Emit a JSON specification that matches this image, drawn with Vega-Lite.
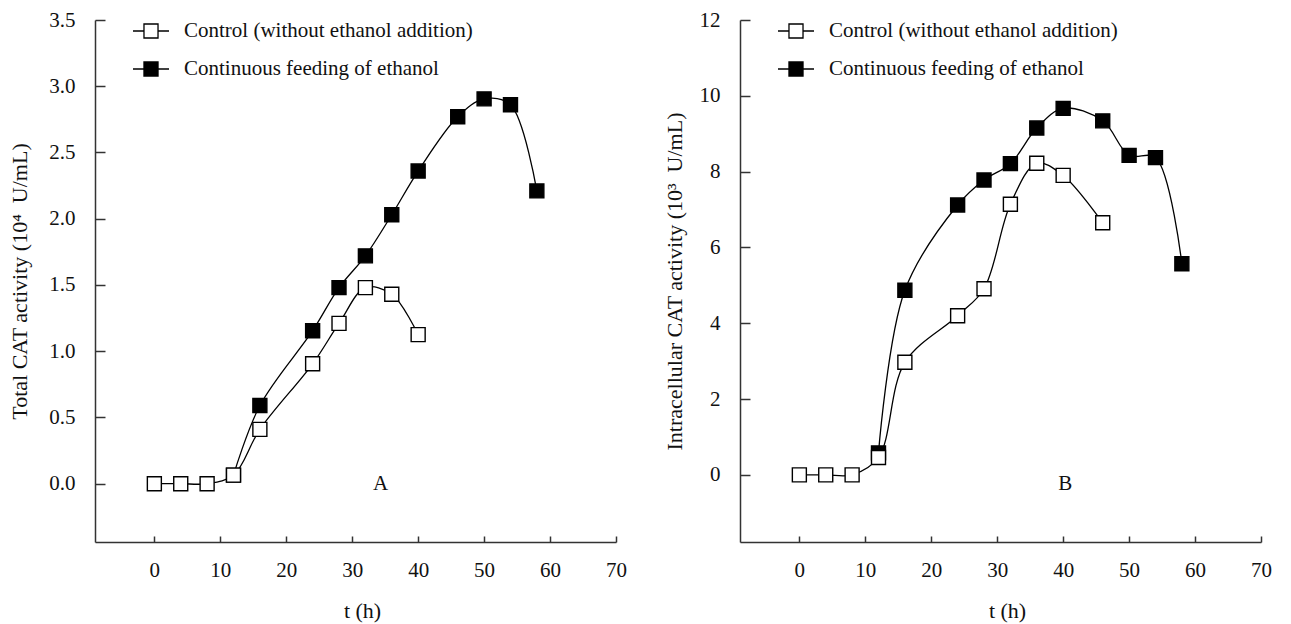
{
  "$schema": "https://vega.github.io/schema/vega-lite/v6.json",
  "background": "white",
  "padding": {"left": 8, "top": 9, "right": 5, "bottom": 5},
  "spacing": 124,
  "bounds": "flush",
  "config": {
    "font": "Liberation Serif",
    "view": {"stroke": null},
    "axis": {
      "grid": false,
      "domainColor": "#333",
      "domainWidth": 1.5,
      "tickColor": "#333",
      "tickWidth": 1.5,
      "labelFont": "Liberation Serif",
      "labelFontSize": 21,
      "labelColor": "#111",
      "titleFont": "Liberation Serif",
      "titleFontSize": 22,
      "titleFontWeight": "normal",
      "titleColor": "#111"
    },
    "axisX": {"tickSize": -6, "labelPadding": 23, "titlePadding": 20, "titleX": 267, "labelFlush": false},
    "axisY": {"tickSize": -10, "labelPadding": 30, "titlePadding": 17},
    "legend": {
      "orient": "none",
      "legendX": 37,
      "legendY": -8,
      "title": null,
      "symbolType": "M-1,0H-0.39M0.39,0H1M-0.39,-0.39H0.39V0.39H-0.39Z",
      "symbolSize": 1296,
      "symbolStrokeColor": "black",
      "symbolStrokeWidth": 1.3,
      "labelFont": "Liberation Serif",
      "labelFontSize": 21,
      "labelColor": "#111",
      "labelOffset": 14,
      "rowPadding": 9,
      "padding": 0,
      "labelLimit": 500
    }
  },
  "datasets": {
    "a": [
      {"s": "Continuous feeding of ethanol", "t": 12, "v": 0.065},
      {"s": "Continuous feeding of ethanol", "t": 16, "v": 0.59},
      {"s": "Continuous feeding of ethanol", "t": 24, "v": 1.155},
      {"s": "Continuous feeding of ethanol", "t": 28, "v": 1.48},
      {"s": "Continuous feeding of ethanol", "t": 32, "v": 1.72},
      {"s": "Continuous feeding of ethanol", "t": 36, "v": 2.03},
      {"s": "Continuous feeding of ethanol", "t": 40, "v": 2.36},
      {"s": "Continuous feeding of ethanol", "t": 46, "v": 2.77},
      {"s": "Continuous feeding of ethanol", "t": 50, "v": 2.905},
      {"s": "Continuous feeding of ethanol", "t": 54, "v": 2.86},
      {"s": "Continuous feeding of ethanol", "t": 58, "v": 2.21},
      {"s": "Control (without ethanol addition)", "t": 0, "v": 0},
      {"s": "Control (without ethanol addition)", "t": 4, "v": 0},
      {"s": "Control (without ethanol addition)", "t": 8, "v": 0},
      {"s": "Control (without ethanol addition)", "t": 12, "v": 0.065},
      {"s": "Control (without ethanol addition)", "t": 16, "v": 0.41},
      {"s": "Control (without ethanol addition)", "t": 24, "v": 0.905},
      {"s": "Control (without ethanol addition)", "t": 28, "v": 1.21},
      {"s": "Control (without ethanol addition)", "t": 32, "v": 1.48},
      {"s": "Control (without ethanol addition)", "t": 36, "v": 1.43},
      {"s": "Control (without ethanol addition)", "t": 40, "v": 1.125}
    ],
    "b": [
      {"s": "Continuous feeding of ethanol", "t": 12, "v": 0.58},
      {"s": "Continuous feeding of ethanol", "t": 16, "v": 4.87},
      {"s": "Continuous feeding of ethanol", "t": 24, "v": 7.12},
      {"s": "Continuous feeding of ethanol", "t": 28, "v": 7.78},
      {"s": "Continuous feeding of ethanol", "t": 32, "v": 8.21},
      {"s": "Continuous feeding of ethanol", "t": 36, "v": 9.15},
      {"s": "Continuous feeding of ethanol", "t": 40, "v": 9.67},
      {"s": "Continuous feeding of ethanol", "t": 46, "v": 9.34},
      {"s": "Continuous feeding of ethanol", "t": 50, "v": 8.43},
      {"s": "Continuous feeding of ethanol", "t": 54, "v": 8.37},
      {"s": "Continuous feeding of ethanol", "t": 58, "v": 5.57},
      {"s": "Control (without ethanol addition)", "t": 0, "v": 0},
      {"s": "Control (without ethanol addition)", "t": 4, "v": 0},
      {"s": "Control (without ethanol addition)", "t": 8, "v": 0},
      {"s": "Control (without ethanol addition)", "t": 12, "v": 0.46},
      {"s": "Control (without ethanol addition)", "t": 16, "v": 2.97},
      {"s": "Control (without ethanol addition)", "t": 24, "v": 4.2},
      {"s": "Control (without ethanol addition)", "t": 28, "v": 4.91},
      {"s": "Control (without ethanol addition)", "t": 32, "v": 7.14},
      {"s": "Control (without ethanol addition)", "t": 36, "v": 8.22},
      {"s": "Control (without ethanol addition)", "t": 40, "v": 7.9},
      {"s": "Control (without ethanol addition)", "t": 46, "v": 6.65}
    ]
  },
  "hconcat": [
    {
      "width": 521,
      "height": 522,
      "data": {"name": "a"},
      "encoding": {
        "x": {"field": "t", "type": "quantitative", "scale": {"domain": [-9, 70], "nice": false, "zero": false}, "axis": {"values": [0, 10, 20, 30, 40, 50, 60, 70], "title": "t (h)"}},
        "y": {"field": "v", "type": "quantitative", "scale": {"domain": [-0.44, 3.5], "nice": false, "zero": false}, "axis": {"values": [0, 0.5, 1, 1.5, 2, 2.5, 3, 3.5], "format": ".1f", "title": "Total CAT activity (10⁴\u00a0 U/mL)"}}
      },
      "layer": [
        {"mark": {"type": "line", "interpolate": "catmull-rom", "color": "black", "strokeWidth": 1.3}, "encoding": {"detail": {"field": "s"}}},
        {"mark": {"type": "point", "shape": "square", "filled": true, "size": 196, "stroke": "black", "strokeWidth": 1.4, "opacity": 1},
         "encoding": {"fill": {"field": "s", "type": "nominal", "scale": {"domain": ["Control (without ethanol addition)", "Continuous feeding of ethanol"], "range": ["white", "black"]},
           "legend": {"symbolType": "M-1,0H-0.39M0.39,0H1M-0.39,-0.39H0.39V0.39H-0.39Z", "encode": {"symbols": {"update": {"shape": {"value": "M-1,0H-0.39M0.39,0H1M-0.39,-0.39H0.39V0.39H-0.39Z"}, "stroke": {"value": "black"}, "strokeWidth": {"value": 1.3}}}}}}}},
        {"data": {"values": [{"t": 34.3, "v": 0, "label": "A"}]}, "mark": {"type": "text", "fontSize": 21, "font": "Liberation Serif", "color": "#111"}, "encoding": {"text": {"field": "label"}}}
      ]
    },
    {
      "width": 521,
      "height": 522,
      "data": {"name": "b"},
      "encoding": {
        "x": {"field": "t", "type": "quantitative", "scale": {"domain": [-9, 70], "nice": false, "zero": false}, "axis": {"values": [0, 10, 20, 30, 40, 50, 60, 70], "title": "t (h)"}},
        "y": {"field": "v", "type": "quantitative", "scale": {"domain": [-1.77, 12], "nice": false, "zero": false}, "axis": {"values": [0, 2, 4, 6, 8, 10, 12], "title": "Intracellular CAT activity (10³\u00a0 U/mL)", "titlePadding": 13}}
      },
      "layer": [
        {"mark": {"type": "line", "interpolate": "catmull-rom", "color": "black", "strokeWidth": 1.3}, "encoding": {"detail": {"field": "s"}}},
        {"mark": {"type": "point", "shape": "square", "filled": true, "size": 196, "stroke": "black", "strokeWidth": 1.4, "opacity": 1},
         "encoding": {"fill": {"field": "s", "type": "nominal", "scale": {"domain": ["Control (without ethanol addition)", "Continuous feeding of ethanol"], "range": ["white", "black"]},
           "legend": {"symbolType": "M-1,0H-0.39M0.39,0H1M-0.39,-0.39H0.39V0.39H-0.39Z", "encode": {"symbols": {"update": {"shape": {"value": "M-1,0H-0.39M0.39,0H1M-0.39,-0.39H0.39V0.39H-0.39Z"}, "stroke": {"value": "black"}, "strokeWidth": {"value": 1.3}}}}}}}},
        {"data": {"values": [{"t": 40.3, "v": -0.23, "label": "B"}]}, "mark": {"type": "text", "fontSize": 21, "font": "Liberation Serif", "color": "#111"}, "encoding": {"text": {"field": "label"}}}
      ]
    }
  ],
  "resolve": {"scale": {"fill": "independent", "x": "independent", "y": "independent"}, "legend": {"fill": "independent"}}
}
